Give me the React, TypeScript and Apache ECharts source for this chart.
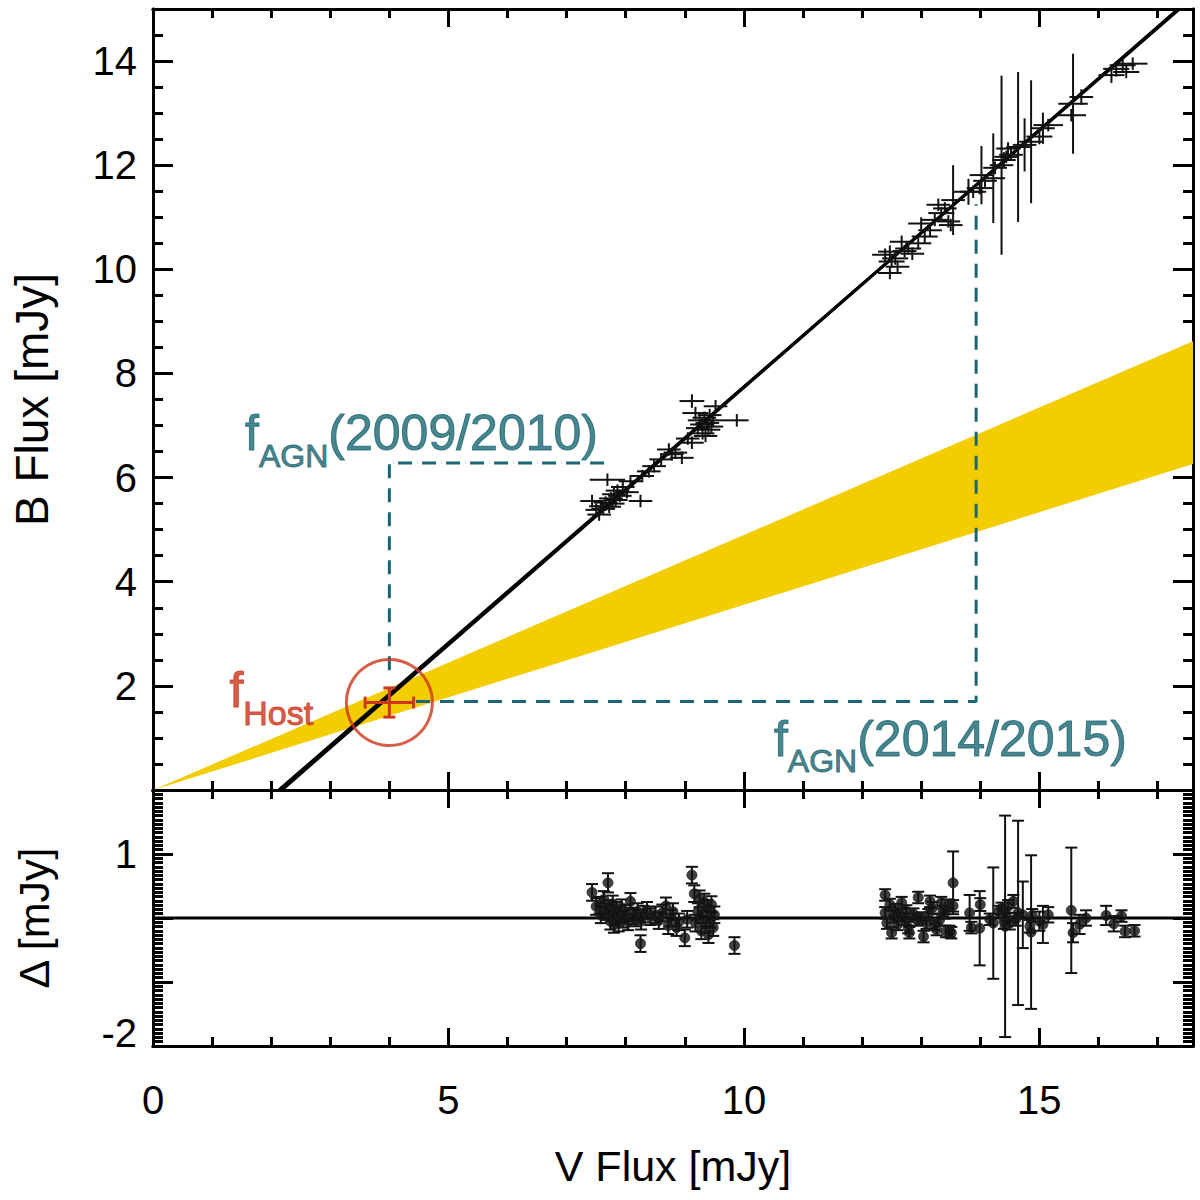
import React, { useEffect, useRef } from 'react';
import * as echarts from 'echarts';

const FONT = '"Liberation Sans", Helvetica, Arial, sans-serif';
const TEAL = '#1a6672';
const RED = '#cc361a';
const YELLOW = '#f3cd00';

// x axis range (V flux, mJy)
const xRange = [0, 17.6];
// top panel y range (B flux) and bottom panel residual range
const fluxRange = [0, 15];
const residRange = [-2, 2];

// top panel: [V, B, errV, errB]
const fluxPoints: number[][] = [
  [7.43, 5.55, 0.2, 0.12], [7.5, 5.38, 0.18, 0.12], [7.55, 5.29, 0.2, 0.12],
  [7.58, 5.45, 0.2, 0.12], [7.62, 5.4, 0.2, 0.12], [7.66, 5.52, 0.2, 0.12],
  [7.69, 5.96, 0.3, 0.12], [7.72, 5.44, 0.2, 0.12], [7.75, 5.6, 0.2, 0.12],
  [7.78, 5.5, 0.2, 0.12], [7.8, 5.68, 0.2, 0.12], [7.83, 5.57, 0.2, 0.12],
  [7.86, 5.75, 0.2, 0.12], [7.9, 5.65, 0.2, 0.12], [7.95, 5.82, 0.2, 0.12],
  [8.02, 5.72, 0.2, 0.12], [8.08, 5.93, 0.2, 0.12], [8.25, 5.55, 0.2, 0.12],
  [8.28, 6.03, 0.2, 0.12], [8.39, 6.12, 0.2, 0.12], [8.48, 6.22, 0.2, 0.12],
  [8.6, 6.35, 0.2, 0.12], [8.73, 6.54, 0.2, 0.12], [8.78, 6.45, 0.2, 0.12],
  [8.84, 6.48, 0.2, 0.12], [8.95, 6.38, 0.2, 0.12], [9.05, 6.75, 0.2, 0.12],
  [9.12, 6.67, 0.2, 0.12], [9.12, 7.47, 0.21, 0.13], [9.18, 7.24, 0.22, 0.12],
  [9.22, 6.95, 0.2, 0.12], [9.25, 7.1, 0.2, 0.12], [9.29, 7.02, 0.2, 0.12],
  [9.3, 6.85, 0.2, 0.12], [9.33, 7.15, 0.2, 0.12], [9.35, 6.8, 0.2, 0.12],
  [9.38, 7.05, 0.2, 0.12], [9.4, 6.92, 0.2, 0.12], [9.42, 7.2, 0.2, 0.12],
  [9.45, 6.98, 0.2, 0.12], [9.48, 7.1, 0.2, 0.12], [9.52, 7.37, 0.2, 0.12],
  [9.88, 7.1, 0.2, 0.12],
  [12.39, 10.28, 0.22, 0.12], [12.47, 10.34, 0.2, 0.12], [12.47, 9.93, 0.2, 0.12],
  [12.5, 10.15, 0.22, 0.12], [12.56, 10.21, 0.22, 0.12], [12.6, 10.05, 0.2, 0.12],
  [12.67, 10.53, 0.2, 0.12], [12.72, 10.35, 0.2, 0.12], [12.78, 10.4, 0.22, 0.12],
  [12.85, 10.3, 0.2, 0.12], [12.95, 10.5, 0.22, 0.12], [13.0, 10.88, 0.22, 0.12],
  [13.06, 10.63, 0.22, 0.12], [13.15, 10.75, 0.2, 0.12], [13.23, 10.95, 0.22, 0.12],
  [13.29, 11.24, 0.2, 0.12], [13.34, 11.08, 0.22, 0.12], [13.4, 11.17, 0.2, 0.12],
  [13.46, 10.92, 0.2, 0.12], [13.5, 10.85, 0.2, 0.12], [13.54, 11.33, 0.2, 0.67],
  [13.8, 11.49, 0.25, 0.25], [13.88, 11.49, 0.22, 0.12], [13.99, 11.56, 0.22, 0.12],
  [14.02, 11.81, 0.2, 0.56], [14.08, 11.7, 0.2, 0.12], [14.22, 11.75, 0.2, 0.86],
  [14.25, 11.95, 0.2, 0.12], [14.36, 12.0, 0.2, 1.72], [14.4, 12.1, 0.2, 0.15],
  [14.44, 12.16, 0.2, 0.12], [14.47, 12.32, 0.2, 0.12], [14.52, 12.2, 0.2, 0.12],
  [14.64, 12.35, 0.2, 1.44], [14.75, 12.39, 0.2, 0.51], [14.86, 12.45, 0.2, 1.18],
  [15.0, 12.55, 0.22, 0.15], [15.06, 12.71, 0.2, 0.3], [15.15, 12.77, 0.25, 0.12],
  [15.54, 12.96, 0.25, 0.12], [15.57, 13.18, 0.25, 0.96], [15.71, 13.31, 0.2, 0.15],
  [16.22, 13.73, 0.22, 0.15], [16.3, 13.85, 0.22, 0.15], [16.41, 13.92, 0.22, 0.12],
  [16.47, 13.79, 0.22, 0.12], [16.58, 13.95, 0.25, 0.12],
];

// bottom panel: [V, delta, errDelta]
const residuals: number[][] = [
  [7.43, 0.4, 0.13], [7.5, 0.18, 0.13], [7.56, 0.2, 0.13], [7.58, 0.05, 0.13],
  [7.63, 0.29, 0.13], [7.66, 0.1, 0.13], [7.7, 0.55, 0.15], [7.71, 0.15, 0.13],
  [7.74, -0.05, 0.13], [7.76, 0.08, 0.13], [7.78, 0.22, 0.13], [7.8, -0.1, 0.13],
  [7.82, 0.02, 0.13], [7.85, 0.12, 0.13], [7.88, -0.08, 0.13], [7.9, 0.05, 0.13],
  [7.93, 0.16, 0.13], [7.96, -0.02, 0.13], [8.0, 0.08, 0.13], [8.04, -0.06, 0.13],
  [8.08, 0.26, 0.13], [8.12, 0.03, 0.13], [8.16, 0.0, 0.13], [8.2, 0.1, 0.13],
  [8.25, -0.4, 0.13], [8.26, -0.05, 0.13], [8.3, 0.06, 0.13], [8.36, 0.12, 0.13],
  [8.42, 0.02, 0.13], [8.5, 0.05, 0.13], [8.56, -0.04, 0.13], [8.62, 0.08, 0.13],
  [8.68, 0.19, 0.13], [8.72, -0.12, 0.13], [8.76, 0.0, 0.13], [8.8, 0.1, 0.13],
  [8.86, -0.15, 0.13], [8.9, -0.06, 0.13], [9.0, -0.31, 0.13], [9.04, -0.02, 0.13],
  [9.12, 0.67, 0.13], [9.16, 0.38, 0.13], [9.18, -0.08, 0.13], [9.22, 0.1, 0.13],
  [9.25, 0.3, 0.13], [9.28, -0.2, 0.13], [9.3, 0.05, 0.13], [9.33, 0.25, 0.13],
  [9.35, -0.1, 0.13], [9.38, 0.15, 0.13], [9.4, -0.26, 0.13], [9.43, -0.02, 0.13],
  [9.45, 0.21, 0.13], [9.48, -0.15, 0.13], [9.5, 0.05, 0.13], [9.84, -0.43, 0.13],
  [12.39, 0.36, 0.09], [12.39, 0.08, 0.09], [12.42, -0.08, 0.09], [12.47, 0.21, 0.09],
  [12.5, -0.23, 0.09], [12.53, 0.02, 0.09], [12.56, 0.13, 0.09], [12.6, -0.1, 0.09],
  [12.64, 0.05, 0.09], [12.67, 0.24, 0.09], [12.72, -0.02, 0.09], [12.75, 0.11, 0.09],
  [12.78, -0.15, 0.09], [12.8, -0.23, 0.09], [12.87, 0.06, 0.09], [12.93, -0.03, 0.09],
  [12.95, 0.32, 0.09], [13.0, 0.0, 0.09], [13.04, -0.29, 0.09], [13.09, -0.08, 0.09],
  [13.12, 0.05, 0.09], [13.15, 0.26, 0.09], [13.19, 0.16, 0.09], [13.22, -0.1, 0.09],
  [13.26, -0.18, 0.09], [13.31, -0.03, 0.09], [13.34, 0.24, 0.09], [13.37, 0.1, 0.09],
  [13.4, 0.08, 0.09], [13.42, -0.21, 0.09], [13.46, 0.2, 0.09], [13.48, -0.21, 0.09],
  [13.51, -0.23, 0.09], [13.54, 0.55, 0.49], [13.54, 0.19, 0.09], [13.82, 0.08, 0.28],
  [13.85, -0.15, 0.09], [14.0, 0.21, 0.1], [13.99, -0.16, 0.58], [14.16, -0.02, 0.09],
  [14.22, -0.08, 0.87], [14.31, 0.1, 0.09], [14.36, 0.15, 0.09], [14.4, -0.05, 0.12],
  [14.42, -0.13, 1.73], [14.44, 0.05, 0.1], [14.47, 0.18, 0.1], [14.5, -0.08, 0.1],
  [14.56, 0.26, 0.1], [14.6, -0.02, 0.1], [14.64, 0.08, 1.44], [14.72, 0.05, 0.52],
  [14.84, -0.13, 0.1], [14.86, -0.22, 1.2], [14.88, 0.04, 0.1], [15.0, -0.05, 0.15],
  [15.06, -0.1, 0.29], [15.15, 0.05, 0.12], [15.54, 0.12, 0.98], [15.57, -0.23, 0.15],
  [15.68, -0.1, 0.15], [15.79, 0.0, 0.12], [16.13, 0.04, 0.15], [16.26, -0.09, 0.12],
  [16.39, 0.03, 0.09], [16.45, -0.21, 0.09], [16.61, -0.2, 0.09],
];

// two nearly identical linear fits
const fitLineA = [[2.13, 0], [17.37, 15]];
const fitLineB = [[2.18, 0], [17.35, 15]];

// host-galaxy colour band (from origin)
const bandX = [0, 17.6];
const bandLower = [0, 6.26];
const bandUpper = [0, 8.62];

// host flux estimate [V, B, errV, errB]
const hostPoint = [4.0, 1.68, 0.41, 0.28];

// dashed guides
const dashAgn0910 = [[4.0, 2.3], [4.0, 6.28], [7.72, 6.28]];
const dashAgn1415 = [[4.45, 1.7], [13.93, 1.7], [13.93, 11.25]];

const zeroLine = [[0, 0], [17.6, 0]];

const tickStyle = { color: '#000', width: 3 };

const makeAxis = (opts: any) => ({
  type: 'value',
  min: opts.min,
  max: opts.max,
  interval: opts.interval,
  position: opts.position,
  gridIndex: opts.grid,
  axisLine: { show: true, onZero: false, lineStyle: { color: '#000', width: 3 } },
  axisTick: { show: true, inside: true, length: opts.tickLen, lineStyle: tickStyle },
  minorTick: opts.minor
    ? { show: true, splitNumber: opts.minor, length: 10, lineStyle: { color: '#000', width: 3 } }
    : { show: false },
  splitLine: { show: false },
  axisLabel: opts.labels
    ? {
        show: true,
        fontSize: 40,
        color: '#000',
        fontFamily: FONT,
        margin: opts.margin,
        formatter: opts.labels,
        rich: opts.rich,
      }
    : { show: false },
  name: opts.name,
  nameLocation: 'middle',
  nameGap: opts.nameGap,
  nameTextStyle: { fontSize: opts.nameSize || 40, color: '#000', fontFamily: FONT },
});

const crossItem = (params: any, api: any) => {
  const x = api.value(0);
  const y = api.value(1);
  const dx = api.value(2);
  const dy = api.value(3);
  const l = api.coord([x - dx, y]);
  const r = api.coord([x + dx, y]);
  const t = api.coord([x, y + dy]);
  const b = api.coord([x, y - dy]);
  const s = { stroke: '#111', lineWidth: 2 };
  return {
    type: 'group',
    children: [
      { type: 'line', shape: { x1: l[0], y1: l[1], x2: r[0], y2: r[1] }, style: s },
      { type: 'line', shape: { x1: t[0], y1: t[1], x2: b[0], y2: b[1] }, style: s },
    ],
  };
};

const residItem = (params: any, api: any) => {
  const x = api.value(0);
  const y = api.value(1);
  const e = api.value(2);
  const t = api.coord([x, y + e]);
  const b = api.coord([x, y - e]);
  const s = { stroke: '#111', lineWidth: 2 };
  const cap = 6;
  return {
    type: 'group',
    children: [
      { type: 'line', shape: { x1: t[0], y1: t[1], x2: b[0], y2: b[1] }, style: s },
      { type: 'line', shape: { x1: t[0] - cap, y1: t[1], x2: t[0] + cap, y2: t[1] }, style: s },
      { type: 'line', shape: { x1: b[0] - cap, y1: b[1], x2: b[0] + cap, y2: b[1] }, style: s },
    ],
  };
};

const hostItem = (params: any, api: any) => {
  const x = api.value(0);
  const y = api.value(1);
  const dx = api.value(2);
  const dy = api.value(3);
  const l = api.coord([x - dx, y]);
  const r = api.coord([x + dx, y]);
  const t = api.coord([x, y + dy]);
  const b = api.coord([x, y - dy]);
  const s = { stroke: RED, lineWidth: 3 };
  const cap = 6;
  return {
    type: 'group',
    children: [
      { type: 'line', shape: { x1: l[0], y1: l[1], x2: r[0], y2: r[1] }, style: s },
      { type: 'line', shape: { x1: t[0], y1: t[1], x2: b[0], y2: b[1] }, style: s },
      { type: 'line', shape: { x1: l[0], y1: l[1] - cap, x2: l[0], y2: l[1] + cap }, style: s },
      { type: 'line', shape: { x1: r[0], y1: r[1] - cap, x2: r[0], y2: r[1] + cap }, style: s },
      { type: 'line', shape: { x1: t[0] - cap, y1: t[1], x2: t[0] + cap, y2: t[1] }, style: s },
      { type: 'line', shape: { x1: b[0] - cap, y1: b[1], x2: b[0] + cap, y2: b[1] }, style: s },
    ],
  };
};

const bandItem = (params: any, api: any) => {
  const upper = bandX.map((x, i) => api.coord([x, bandUpper[i]]));
  const lower = bandX.map((x, i) => api.coord([x, bandLower[i]])).reverse();
  return { type: 'polygon', shape: { points: [...upper, ...lower] }, style: { fill: YELLOW } };
};

const subLabel = (main: string, sub: string, tail: string, color: string, big: number, small: number, pos: string) => {
  const base = { color, fontFamily: FONT, textBorderColor: color, textBorderWidth: 1 };
  return {
    show: true,
    position: pos,
    distance: 0,
    ...base,
    formatter: `{f|${main}}{s|${sub}}${tail ? `{m|${tail}}` : ''}`,
    rich: {
      f: { ...base, fontSize: big },
      s: { ...base, fontSize: small, padding: [Math.round(big * 0.9), 0, 0, 0] },
      m: { ...base, fontSize: big },
    },
  };
};

const labelSeries = {
  type: 'scatter',
  xAxisIndex: 0,
  yAxisIndex: 0,
  symbolSize: 1,
  itemStyle: { color: 'rgba(0,0,0,0)' },
  z: 20,
  data: [
    { value: [1.55, 6.85], label: subLabel('f', 'AGN', '(2009/2010)', TEAL, 50, 32, 'right') },
    { value: [10.5, 0.98], label: subLabel('f', 'AGN', '(2014/2015)', TEAL, 50, 32, 'right') },
    { value: [2.72, 1.92], label: subLabel('f', 'Host', '', RED, 50, 34, 'left') },
  ],
};

const App: React.FC = () => {
  const chartRef = useRef<HTMLDivElement>(null);

  useEffect(() => {
    document.body.style.margin = '0';
    if (!chartRef.current) return;
    const chart = echarts.init(chartRef.current, undefined, { renderer: 'svg' });

    const topY = (v: number) => (v === 0 || v === 15 ? '' : String(v));
    const botY = (v: number) => (v === 1 ? '1' : v === -2 ? '{lo|-2}' : '');
    const botX = (v: number) => (v % 5 === 0 ? String(v) : '');

    const option: any = {
      animation: false,
      backgroundColor: '#fff',
      grid: [
        { left: 153, right: 7, top: 9, height: 781 },
        { left: 153, right: 7, top: 790, height: 256 },
      ],
      xAxis: [
        makeAxis({ min: xRange[0], max: xRange[1], interval: 5, position: 'bottom', grid: 0, tickLen: 18 }),
        makeAxis({ min: xRange[0], max: xRange[1], interval: 1, position: 'bottom', grid: 0, tickLen: 9 }),
        makeAxis({ min: xRange[0], max: xRange[1], interval: 5, position: 'top', grid: 0, tickLen: 18 }),
        makeAxis({ min: xRange[0], max: xRange[1], interval: 1, position: 'top', grid: 0, tickLen: 9 }),
        makeAxis({
          min: xRange[0], max: xRange[1], interval: 5, position: 'bottom', grid: 1, tickLen: 18,
          labels: botX, margin: 34, name: 'V Flux [mJy]', nameGap: 98, nameSize: 43,
        }),
        makeAxis({ min: xRange[0], max: xRange[1], interval: 1, position: 'bottom', grid: 1, tickLen: 9 }),
        makeAxis({ min: xRange[0], max: xRange[1], interval: 5, position: 'top', grid: 1, tickLen: 18 }),
        makeAxis({ min: xRange[0], max: xRange[1], interval: 1, position: 'top', grid: 1, tickLen: 9 }),
      ],
      yAxis: [
        makeAxis({
          min: fluxRange[0], max: fluxRange[1], interval: 2, position: 'left', grid: 0, tickLen: 20,
          labels: topY, margin: 16, name: 'B Flux [mJy]', nameGap: 98, nameSize: 46,
        }),
        makeAxis({ min: fluxRange[0], max: fluxRange[1], interval: 0.5, position: 'left', grid: 0, tickLen: 10 }),
        makeAxis({ min: fluxRange[0], max: fluxRange[1], interval: 2, position: 'right', grid: 0, tickLen: 20 }),
        makeAxis({ min: fluxRange[0], max: fluxRange[1], interval: 0.5, position: 'right', grid: 0, tickLen: 10 }),
        makeAxis({
          min: residRange[0], max: residRange[1], interval: 1, position: 'left', grid: 1, tickLen: 20,
          minor: 15, labels: botY, margin: 16, name: 'Δ [mJy]', nameGap: 98, nameSize: 43,
          rich: { lo: { fontSize: 40, color: '#000', fontFamily: FONT, padding: [0, 0, 26, 0] } },
        }),
        makeAxis({
          min: residRange[0], max: residRange[1], interval: 1, position: 'right', grid: 1, tickLen: 20, minor: 15,
        }),
      ],
      series: [
        {
          type: 'custom',
          xAxisIndex: 0,
          yAxisIndex: 0,
          clip: true,
          z: 1,
          renderItem: bandItem,
          encode: { x: 0, y: 1 },
          data: [[bandX[0], bandLower[0]]],
        },
        {
          type: 'line',
          xAxisIndex: 0,
          yAxisIndex: 0,
          clip: true,
          z: 3,
          symbol: 'none',
          lineStyle: { color: '#000', width: 3 },
          data: fitLineA,
        },
        {
          type: 'line',
          xAxisIndex: 0,
          yAxisIndex: 0,
          clip: true,
          z: 3,
          symbol: 'none',
          lineStyle: { color: '#000', width: 3 },
          data: fitLineB,
        },
        {
          type: 'line',
          xAxisIndex: 0,
          yAxisIndex: 0,
          z: 4,
          symbol: 'none',
          lineStyle: { color: TEAL, width: 3, type: [14, 10] },
          data: dashAgn0910,
        },
        {
          type: 'line',
          xAxisIndex: 0,
          yAxisIndex: 0,
          z: 4,
          symbol: 'none',
          lineStyle: { color: TEAL, width: 3, type: [14, 10] },
          data: dashAgn1415,
        },
        {
          type: 'custom',
          xAxisIndex: 0,
          yAxisIndex: 0,
          clip: true,
          z: 5,
          renderItem: crossItem,
          encode: { x: 0, y: 1 },
          data: fluxPoints,
        },
        {
          type: 'custom',
          xAxisIndex: 0,
          yAxisIndex: 0,
          z: 6,
          renderItem: hostItem,
          encode: { x: 0, y: 1 },
          data: [hostPoint],
        },
        {
          type: 'scatter',
          xAxisIndex: 0,
          yAxisIndex: 0,
          z: 6,
          symbol: 'circle',
          symbolSize: 86,
          itemStyle: { color: 'rgba(0,0,0,0)', borderColor: RED, borderWidth: 3 },
          data: [[hostPoint[0], hostPoint[1]]],
        },
        labelSeries,
        {
          type: 'line',
          xAxisIndex: 4,
          yAxisIndex: 4,
          z: 3,
          symbol: 'none',
          lineStyle: { color: '#000', width: 3 },
          data: zeroLine,
        },
        {
          type: 'custom',
          xAxisIndex: 4,
          yAxisIndex: 4,
          clip: true,
          z: 5,
          renderItem: residItem,
          encode: { x: 0, y: 1 },
          data: residuals,
        },
        {
          type: 'scatter',
          xAxisIndex: 4,
          yAxisIndex: 4,
          z: 6,
          symbol: 'circle',
          symbolSize: 10,
          itemStyle: { color: '#111', borderColor: '#222', borderWidth: 1 },
          data: residuals.map((r) => [r[0], r[1]]),
        },
      ],
    };

    chart.setOption(option);
    return () => {
      chart.dispose();
    };
  }, []);

  return <div ref={chartRef} style={{ width: 1200, height: 1200 }} />;
};

export default App;
